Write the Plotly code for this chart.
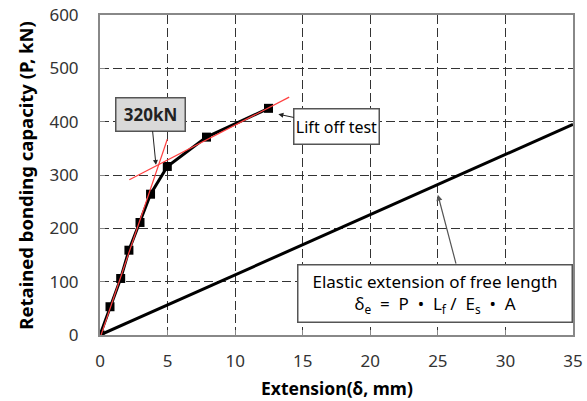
import plotly.graph_objects as go

# Lift-off test data
ext = [0, 0.74, 1.53, 2.14, 2.96, 3.74, 4.98, 7.88, 12.47]
load = [0, 53, 106, 159, 211, 264, 316, 371, 425]

# Elastic extension of free length
elastic_x = [0, 35]
elastic_y = [0, 395]

# Tangent lines
tan1_x = [0, 4.98]
tan1_y = [-6, 367]
tan2_x = [2.17, 14.0]
tan2_y = [291, 446]

x_ticks = [0, 5, 10, 15, 20, 25, 30, 35]
y_ticks = [0, 100, 200, 300, 400, 500, 600]

FONT = "Noto Sans"

fig = go.Figure()
fig.add_trace(go.Scatter(x=elastic_x, y=elastic_y, mode="lines",
                         line=dict(color="black", width=3), showlegend=False))
fig.add_trace(go.Scatter(x=ext, y=load, mode="lines+markers",
                         line=dict(color="black", width=3),
                         marker=dict(symbol="square", size=9, color="black"),
                         showlegend=False))
fig.add_trace(go.Scatter(x=tan1_x, y=tan1_y, mode="lines",
                         line=dict(color="#ff4040", width=1.2), showlegend=False))
fig.add_trace(go.Scatter(x=tan2_x, y=tan2_y, mode="lines",
                         line=dict(color="#ff4040", width=1.2), showlegend=False))

grid = dict(showgrid=True, gridcolor="#333333", gridwidth=1, griddash="9px,4px")

fig.update_xaxes(range=[0, 35], tickvals=x_ticks, ticks="inside", ticklen=5,
                 tickcolor="#888", showline=True, linecolor="#888", linewidth=2,
                 mirror=True, zeroline=False, automargin=False, ticklabelstandoff=10,
                 tickfont=dict(family=FONT, size=17, color="#333"),
                 **grid)
fig.update_yaxes(range=[0, 600], tickvals=y_ticks, ticks="inside", ticklen=5,
                 tickcolor="#888", showline=True, linecolor="#888", linewidth=2,
                 mirror=True, zeroline=False, automargin=False, ticklabelstandoff=16,
                 tickfont=dict(family=FONT, size=17, color="#333"),
                 **grid)

# Axis titles
fig.add_annotation(x=0.5, y=-0.166, xref="paper", yref="paper", showarrow=False,
                   text="<b>Extension(δ, mm)</b>", yanchor="middle",
                   font=dict(family=FONT, size=17.5, color="black"))
fig.add_annotation(x=-0.19, y=0.5, xref="paper", yref="paper", showarrow=False,
                   text="<b>Retained bonding capacity (P, kN)</b>", textangle=-90,
                   font=dict(family=FONT, size=18.5, color="black"))

# 320kN callout
fig.add_annotation(x=4.14, y=319, ax=3.77, ay=413.7, axref="x", ayref="y",
                   text="<b>320kN</b>", showarrow=True, arrowhead=2, arrowsize=1,
                   arrowwidth=1, arrowcolor="#222",
                   bgcolor="#d9d9d9", bordercolor="#555", borderwidth=1.5,
                   width=66, height=30,
                   font=dict(family=FONT, size=17, color="#222"))
# Lift off test callout
fig.add_annotation(x=13.2, y=414, ax=17.5, ay=391, axref="x", ayref="y",
                   text="Lift off test", showarrow=True, arrowhead=2, arrowsize=1,
                   arrowwidth=1, arrowcolor="#222",
                   bgcolor="white", bordercolor="#555", borderwidth=1.5,
                   width=82, height=32,
                   font=dict(family=FONT, size=16, color="black"))
# Elastic callout box
fig.add_annotation(x=24.8, y=77, xref="x", yref="y", showarrow=False,
                   text="Elastic extension of free length<br>δ<sub>e</sub>  =  P  •  L<sub>f</sub> /  E<sub>s</sub>  •  A",
                   bgcolor="white", bordercolor="#555", borderwidth=1.5,
                   width=271, height=54,
                   font=dict(family=FONT, size=17, color="black"))
fig.add_annotation(x=25.0, y=263, ax=26.37, ay=131, axref="x", ayref="y",
                   text="", showarrow=True, arrowhead=2, arrowsize=1,
                   arrowwidth=1.2, arrowcolor="#555")

fig.update_layout(width=587, height=401,
                  margin=dict(l=100, r=14, t=15, b=66),
                  plot_bgcolor="white", paper_bgcolor="white",
                  font=dict(family=FONT))
fig.write_html("out.html")
